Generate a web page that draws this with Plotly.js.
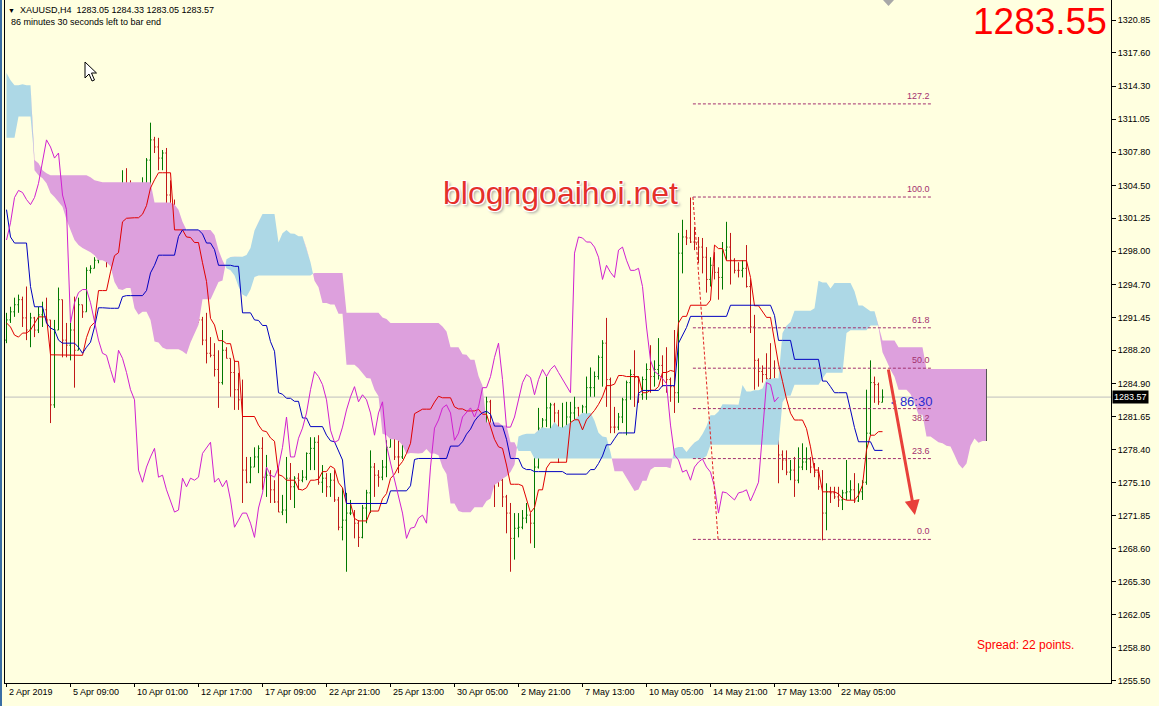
<!DOCTYPE html>
<html>
<head>
<meta charset="utf-8">
<script src="https://cdn.plot.ly/plotly-3.0.1.min.js"></script>
<style>
html,body{margin:0;padding:0;background:#FFFFE0;overflow:hidden;}
#wrap{position:relative;width:1159px;height:706px;}
#chart{position:absolute;left:0;top:0;width:1159px;height:706px;}
#edge{position:absolute;left:0;top:0;width:2px;height:706px;background:#3a6ea5;}
#cursor{position:absolute;left:84px;top:61px;}
#shift{position:absolute;left:883px;top:0px;}
</style>
</head>
<body>
<div id="wrap">
<div id="chart"></div>
<div id="edge"></div>
<svg id="cursor" width="14" height="22"><path d="M1,1 L1,17 L5,13 L8,20 L10.5,19 L7.5,12 L12.5,12 Z" fill="#fff" stroke="#000" stroke-width="1"/></svg>
<svg id="shift" width="12" height="8"><polygon points="0,0 11,0 5.5,6" fill="#a8a8a8"/></svg>
</div>
<script>
// ---------- price bars (XAUUSD H4), bar index 0 .. 219 ----------
const open = [1289.2,1291.2,1292.0,1292.7,1293.2,1291.4,1290.2,1291.4,1290.2,1291.7,1292.2,1291.2,1282.8,1290.2,1293.2,1289.2,1288.7,1290.2,1288.2,1292.7,
1292.0,1296.1,1296.3,1297.1,1301.6,1298.6,1297.6,1299.1,1300.8,1303.3,1304.0,1303.8,1303.1,1302.6,1303.3,1304.7,1307.0,1309.0,1308.3,1307.2,
1307.7,1303.55,1302.1,1290.9,1292.9,1293.9,1294.2,1294.2,1292.9,1291.2,1289.2,1287.9,1287.7,1286.3,1285.0,1288.2,1287.4,1286.0,1284.3,1283.3,
1276.35,1275.15,1276.65,1277.65,1278.5,1275.65,1275.85,1274.4,1273.2,1272.2,1272.4,1275.55,1274.7,1275.55,1275.35,1275.65,1278.0,1278.5,1279.1,1275.15,
1275.55,1274.7,1275.35,1273.4,1270.7,1271.4,1272.1,1272.1,1271.1,1269.7,1272.6,1274.1,1276.65,1275.85,1275.65,1276.65,1278.6,1281.6,1277.65,1277.65,
1279.5,1280.5,1282.0,1284.3,1286.1,1285.6,1284.8,1283.3,1280.3,1279.1,1279.3,1280.6,1282.3,1283.6,1284.6,1283.1,1283.8,1283.3,1282.0,1279.8,
1282.0,1283.1,1278.8,1277.05,1275.35,1273.7,1272.1,1269.6,1270.6,1270.7,1271.6,1271.9,1271.1,1276.65,1280.5,1281.3,1282.5,1282.8,1282.0,1279.3,
1280.0,1281.6,1282.0,1282.5,1281.6,1282.6,1284.5,1284.5,1285.6,1287.5,1288.9,1285.3,1280.6,1280.6,1281.6,1283.3,1285.0,1285.8,1285.5,1283.8,
1285.3,1286.3,1285.6,1286.3,1286.7,1286.0,1285.3,1284.6,1284.0,1297.8,1299.4,1299.3,1298.9,1298.9,1298.4,1297.4,1295.2,1296.6,1295.9,1295.4,
1298.1,1298.4,1297.1,1296.1,1296.1,1296.3,1294.5,1290.5,1287.2,1286.1,1285.8,1285.4,1284.9,1280.8,1277.85,1277.35,1276.15,1276.35,1275.35,1276.65,
1277.15,1277.45,1276.65,1276.15,1274.7,1272.1,1274.2,1274.1,1273.7,1273.4,1274.1,1274.2,1274.4,1273.3,1274.2,1275.15,1280.0,1285.0,1284.8,1283.05];
const high = [1291.9,1292.5,1293.4,1293.7,1293.5,1294.5,1291.9,1291.5,1292.5,1293.0,1293.4,1291.2,1291.2,1294.4,1293.2,1290.9,1290.9,1293.5,1293.4,1292.7,
1296.4,1296.6,1297.4,1303.7,1301.6,1298.6,1299.8,1301.1,1303.55,1306.0,1306.2,1305.0,1304.7,1303.7,1305.3,1307.2,1310.7,1309.3,1309.2,1308.0,
1308.2,1305.0,1303.1,1293.9,1294.2,1294.5,1295.8,1294.9,1295.2,1291.5,1291.9,1289.5,1288.9,1288.2,1290.2,1288.5,1287.4,1287.2,1285.96,1285.3,
1277.65,1277.65,1278.6,1278.8,1279.6,1277.85,1276.35,1275.35,1276.65,1273.9,1277.65,1277.05,1275.75,1276.05,1276.35,1278.1,1279.6,1279.6,1279.8,1276.85,
1276.05,1276.05,1276.35,1273.7,1274.6,1274.1,1273.4,1272.4,1271.4,1272.9,1274.4,1278.3,1277.05,1276.35,1277.35,1279.3,1282.3,1282.0,1279.3,1280.0,
1282.3,1283.3,1288.5,1288.7,1286.9,1286.5,1286.5,1285.0,1282.0,1280.6,1280.8,1283.3,1284.3,1285.3,1286.1,1284.6,1284.3,1283.4,1282.2,1282.6,
1283.6,1283.3,1280.6,1278.0,1275.5,1273.9,1273.1,1272.1,1272.1,1272.4,1273.1,1272.1,1279.0,1282.5,1281.5,1285.6,1283.0,1283.0,1282.3,1283.0,
1283.1,1283.1,1283.6,1282.6,1282.8,1285.6,1286.5,1286.1,1287.7,1289.2,1291.4,1285.5,1282.6,1282.0,1283.5,1285.2,1286.3,1288.2,1285.6,1285.6,
1286.9,1288.7,1287.2,1289.4,1287.7,1288.5,1285.5,1290.2,1299.8,1301.1,1300.1,1303.3,1300.4,1299.4,1299.3,1298.4,1297.4,1297.9,1296.4,1298.9,
1300.9,1299.8,1297.3,1296.9,1297.1,1298.6,1295.2,1291.7,1287.4,1286.7,1287.9,1288.9,1287.2,1283.6,1278.3,1278.3,1277.35,1277.65,1278.6,1279.0,
1278.6,1277.65,1277.05,1276.65,1276.35,1275.05,1274.7,1274.7,1274.7,1274.4,1277.35,1275.35,1276.05,1275.05,1275.35,1284.3,1287.2,1285.6,1285.0,1284.33];
const low = [1288.9,1290.9,1291.5,1291.9,1290.5,1289.2,1288.5,1289.5,1289.9,1290.5,1290.9,1281.0,1282.5,1290.2,1287.5,1287.5,1287.2,1284.5,1288.2,1291.4,
1292.0,1295.8,1296.3,1296.8,1297.4,1296.4,1297.1,1297.8,1297.8,1299.4,1302.4,1301.1,1302.1,1301.4,1302.1,1300.8,1303.4,1307.7,1306.0,1306.0,
1302.6,1301.6,1289.5,1289.9,1291.5,1291.9,1291.2,1290.5,1290.9,1288.7,1286.9,1287.5,1285.6,1282.5,1284.8,1287.4,1283.6,1282.3,1282.3,1273.1,
1275.05,1275.05,1276.65,1276.05,1274.4,1273.7,1273.1,1273.1,1272.2,1271.9,1271.1,1273.4,1272.6,1274.4,1275.15,1275.35,1276.35,1276.35,1274.9,1274.1,
1273.7,1273.7,1273.2,1270.4,1269.4,1266.3,1271.9,1269.6,1268.75,1269.6,1271.1,1272.1,1273.7,1274.7,1275.35,1275.65,1278.6,1277.35,1276.05,1277.45,
1279.3,1278.6,1281.8,1282.0,1285.0,1284.6,1283.1,1279.3,1278.6,1278.3,1278.6,1280.0,1280.0,1281.3,1280.0,1281.3,1280.6,1279.6,1279.3,1277.65,
1280.0,1275.05,1272.7,1274.7,1272.7,1270.1,1266.3,1267.5,1269.7,1270.5,1271.1,1269.1,1268.65,1276.5,1278.3,1280.6,1278.0,1280.3,1277.05,1278.0,
1279.6,1280.0,1280.6,1278.0,1278.3,1281.6,1283.6,1283.6,1285.3,1284.6,1282.6,1280.0,1280.0,1280.3,1281.0,1279.8,1283.3,1282.6,1283.0,1283.3,
1283.3,1284.0,1284.6,1285.3,1284.6,1284.0,1283.1,1282.0,1283.0,1295.8,1298.6,1298.8,1298.1,1296.8,1295.8,1293.9,1294.5,1295.2,1293.2,1294.2,
1297.1,1294.7,1295.8,1295.4,1295.4,1294.4,1289.9,1284.3,1284.6,1285.0,1285.0,1284.7,1280.0,1275.05,1276.35,1275.85,1275.35,1273.7,1275.05,1276.35,
1276.35,1276.05,1275.65,1274.4,1269.4,1270.4,1273.1,1273.5,1272.7,1272.4,1273.4,1273.4,1273.1,1273.2,1273.4,1274.9,1279.8,1283.0,1282.8,1283.05];
const close = [1291.2,1292.0,1292.7,1293.2,1291.4,1290.2,1291.4,1290.2,1291.7,1292.2,1291.2,1282.8,1290.2,1293.2,1289.2,1288.7,1290.2,1288.2,1292.7,1292.0,
1296.1,1296.3,1297.1,1301.6,1298.6,1297.6,1299.1,1300.8,1303.3,1304.0,1303.8,1303.1,1302.6,1303.3,1304.7,1307.0,1309.0,1308.3,1307.2,1307.7,
1303.55,1302.1,1290.9,1292.9,1293.9,1294.2,1294.2,1292.9,1291.2,1289.2,1287.9,1287.7,1286.3,1285.0,1288.2,1287.4,1286.0,1284.3,1283.3,1276.35,
1275.15,1276.65,1277.65,1278.5,1275.65,1275.85,1274.4,1273.2,1272.2,1272.4,1275.55,1274.7,1275.55,1275.35,1275.65,1278.0,1278.5,1279.1,1275.15,1275.55,
1274.7,1275.35,1273.4,1270.7,1271.4,1272.1,1272.1,1271.1,1269.7,1272.6,1274.1,1276.65,1275.85,1275.65,1276.65,1278.6,1281.6,1277.65,1277.65,1279.5,
1280.5,1282.0,1284.3,1286.1,1285.6,1284.8,1283.3,1280.3,1279.1,1279.3,1280.6,1282.3,1283.6,1284.6,1283.1,1283.8,1283.3,1282.0,1279.8,1282.0,
1283.1,1278.8,1277.05,1275.35,1273.7,1272.1,1269.6,1270.6,1270.7,1271.6,1271.9,1271.1,1276.65,1280.5,1281.3,1282.5,1282.8,1282.0,1279.3,1280.0,
1281.6,1282.0,1282.5,1281.6,1282.6,1284.5,1284.5,1285.6,1287.5,1288.9,1285.3,1280.6,1280.6,1281.6,1283.3,1285.0,1285.8,1285.5,1283.8,1285.3,
1286.3,1285.6,1286.3,1286.7,1286.0,1285.3,1284.6,1284.0,1297.8,1299.4,1299.3,1298.9,1298.9,1298.4,1297.4,1295.2,1296.6,1295.9,1295.4,1298.1,
1298.4,1297.1,1296.1,1296.1,1296.3,1294.5,1290.5,1287.2,1286.1,1285.8,1285.4,1284.9,1280.8,1277.85,1277.35,1276.15,1276.35,1275.35,1276.65,1277.15,
1277.45,1276.65,1276.15,1274.7,1272.1,1274.2,1274.1,1273.7,1273.4,1274.1,1274.2,1274.4,1273.3,1274.2,1275.15,1280.0,1285.0,1284.8,1283.1,1283.57];

const tenkanEarly = [1290.9,1290.5,1289.7,1289.5,1289.9,1289.9,1290.2,1290.9];
const kijunEarly = [1302.1,1299.4,1298.8,1298.8,1298.8,1298.8,1294.5,1292.5,1292.5,1292.5,1290.9,1290.4,1290.2,1289.2,1288.9,1288.9,1288.9,1288.9,1288.5,1287.9,1288.5,1289.0,1290.5,1292.4,1292.4];
const spanAEarly = [1315.6,1314.9,1314.4,1314.4,1314.5,1314.4,1314.4,1306.0,1305.5,1305.2,1304.7,1303.75,1303.35,1302.9,1302.4,1301.1,1300.1,1299.1,1298.6,1298.3,1298.1,1297.9,1297.6,1297.1,1297.1,1296.9];
const spanBEarly = [1309.2,1309.2,1309.2,1311.3,1311.3,1311.3,1311.3,1307.0,1306.7,1306.0,1305.7,1305.5,1305.5,1305.5,1305.5,1305.5,1305.5,1305.5,1305.5,1305.5,
1305.5,1305.3,1305.0,1304.9,1304.8,1304.8,1304.8,1304.8,1304.8,1304.8,1304.8,1304.8,1304.8,1304.8,1304.8,1304.8,1304.8,1302.8,1302.8,1302.8,
1302.8,1302.8,1302.6,1302.1,1300.9,1300.1,1300.1,1300.1,1300.1,1300.1,1300.1,1300.1,1299.6,1298.1,1297.1,1296.3,1296.1,1295.6,1294.5,1293.7,
1293.5,1294.2,1295.45,1295.6,1295.6,1295.6,1295.6,1295.6,1295.6,1295.6,1295.6,1295.6,1295.6,1295.6,1295.6,1295.6,1295.6];

// Axis labels
const priceTicks = [1320.85,1317.60,1314.30,1311.05,1307.80,1304.50,1301.25,1298.00,1294.70,1291.45,1288.20,1284.90,1281.65,1278.40,1275.10,1271.85,1268.60,1265.30,1262.05,1258.80,1255.50];
const timeTickBars = [0,16,32,48,64,80,96,112,128,144,160,176,192,208];
const timeTickLabels = ["2 Apr 2019","5 Apr 09:00","10 Apr 01:00","12 Apr 17:00","17 Apr 09:00","22 Apr 21:00","25 Apr 13:00","30 Apr 05:00","2 May 21:00","7 May 13:00","10 May 05:00","14 May 21:00","17 May 13:00","22 May 05:00"];

// Fibonacci retracement
const fibLow = 1269.5, fibHigh = 1303.35;
const fibRatios = [0, 23.6, 38.2, 50.0, 61.8, 100.0, 127.2];
const fibLabels = ["0.0","23.6","38.2","50.0","61.8","100.0","127.2"];
const bidPrice = 1283.57;

// ---------- derived series ----------
const N = close.length;
const idx = close.map((_, i) => i);
function hh(a, f, t){ let m = -Infinity; for (let j = Math.max(0,f); j <= t; j++) m = Math.max(m, a[j]); return m; }
function ll(a, f, t){ let m = Infinity; for (let j = Math.max(0,f); j <= t; j++) m = Math.min(m, a[j]); return m; }
const tenkan = idx.map(i => i < tenkanEarly.length ? tenkanEarly[i] : (hh(high, i-8, i) + ll(low, i-8, i)) / 2);
const kijun = idx.map(i => i < kijunEarly.length ? kijunEarly[i] : (hh(high, i-25, i) + ll(low, i-25, i)) / 2);
const chX = [], chY = [];
for (let j = 26; j < N; j++){ chX.push(j - 26); chY.push(close[j]); }
const cK = [], spanA = [], spanB = [];
for (let k = 0; k < N + 26; k++){
  cK.push(k);
  spanA.push(k < spanAEarly.length ? spanAEarly[k] : (tenkan[k-26] + kijun[k-26]) / 2);
  spanB.push(k < spanBEarly.length ? spanBEarly[k] : (hh(high, k-77, k-26) + ll(low, k-77, k-26)) / 2);
}
// cloud polygons with crossing points
const X = [], UP = [], LB = [], LA = [];
for (let k = 0; k < cK.length; k++){
  if (k > 0){
    const d0 = spanA[k-1] - spanB[k-1], d1 = spanA[k] - spanB[k];
    if (d0 * d1 < 0){
      const t = d0 / (d0 - d1);
      const xc = cK[k-1] + t * (cK[k] - cK[k-1]);
      const yc = spanA[k-1] + t * (spanA[k] - spanA[k-1]);
      X.push(xc); UP.push(yc); LB.push(yc); LA.push(yc);
    }
  }
  X.push(cK[k]); UP.push(Math.max(spanA[k], spanB[k])); LB.push(spanB[k]); LA.push(spanA[k]);
}
const polyX = X.concat(X.slice().reverse());
const blueY = UP.concat(LB.slice().reverse());
const plumY = UP.concat(LA.slice().reverse());

const traces = [
  {type:'scatter', mode:'lines', x: polyX, y: blueY, fill:'toself', fillcolor:'#ADD8E6', line:{width:0, color:'rgba(0,0,0,0)'}, hoverinfo:'skip'},
  {type:'scatter', mode:'lines', x: polyX, y: plumY, fill:'toself', fillcolor:'#DDA0DD', line:{width:0, color:'rgba(0,0,0,0)'}, hoverinfo:'skip'},
  {type:'ohlc', x: idx, open: open, high: high, low: low, close: close, tickwidth: 0.3,
   increasing:{line:{color:'#007800', width:1}}, decreasing:{line:{color:'#C01818', width:1}}, hoverinfo:'skip'},
  {type:'scatter', mode:'lines', x: idx, y: tenkan, line:{color:'#E00000', width:1}, hoverinfo:'skip'},
  {type:'scatter', mode:'lines', x: idx, y: kijun, line:{color:'#0000C0', width:1}, hoverinfo:'skip'},
  {type:'scatter', mode:'lines', x: chX, y: chY, line:{color:'#D020D0', width:1}, hoverinfo:'skip'}
];

// ---------- layout ----------
const L = 5, R = 48, T = 0, B = 23, W = 1159, H = 706;
const pw = W - L - R, ph = H - T - B;
const px = v => (v - L) / pw;          // page pixel -> paper x
const py = v => 1 - (v - T) / ph;      // page pixel -> paper y
const xMin = -0.375, xMax = xMin + pw / 4;
const yTop = 1322.83, yBot = 1255.30;

const fibFrom = 171.6, fibTo = 231.4;
const fibColor = '#A3306F';
const shapes = [
  {type:'line', xref:'paper', x0:0, x1:1, yref:'y', y0:bidPrice, y1:bidPrice, line:{color:'#BEBEBE', width:1}, layer:'below'},
  {type:'line', xref:'x', yref:'y', x0:fibFrom, y0:fibHigh, x1:177.9, y1:fibLow, line:{color:'#E02020', width:1, dash:'3px,2px'}},
  {type:'line', xref:'x', yref:'y', x0:cK[cK.length-1], x1:cK[cK.length-1], y0:spanA[spanA.length-1], y1:spanB[spanB.length-1], line:{color:'#555', width:1}}
];
const annotations = [];
fibRatios.forEach((r, n) => {
  const lvl = fibLow + r / 100 * (fibHigh - fibLow);
  shapes.push({type:'line', xref:'x', yref:'y', x0:fibFrom, x1:fibTo, y0:lvl, y1:lvl, line:{color:fibColor, width:1, dash:'3px,2px'}});
  const below = (r === 38.2);
  annotations.push({xref:'x', yref:'y', x:fibTo, y:lvl, xanchor:'right', yanchor: below ? 'top' : 'bottom', yshift: below ? -2 : 1, showarrow:false,
    text: fibLabels[n], font:{family:'Liberation Sans', size:9, color:fibColor}});
});
timeTickBars.forEach((b, n) => {
  annotations.push({xref:'x', yref:'paper', x:b, y:0, xanchor:'left', yanchor:'top', yshift:-2, xshift:0, showarrow:false,
    text: timeTickLabels[n], font:{family:'Liberation Sans', size:9, color:'#000'}});
});
const txtFont = {family:'Liberation Sans', size:9, color:'#000'};
annotations.push(
  {xref:'paper', yref:'paper', x:px(6), y:py(10), xanchor:'left', yanchor:'middle', showarrow:false,
   text:'<span style="font-size:7px">▼</span>&nbsp;&nbsp;XAUUSD,H4&nbsp;&nbsp;1283.05 1284.33 1283.05 1283.57', font:txtFont},
  {xref:'paper', yref:'paper', x:px(9), y:py(22), xanchor:'left', yanchor:'middle', showarrow:false,
   text:'86 minutes 30 seconds left to bar end', font:txtFont},
  {xref:'paper', yref:'paper', x:px(1109), y:py(22), xanchor:'right', yanchor:'middle', showarrow:false,
   text:'1283.55', font:{family:'Liberation Sans', size:37, color:'#FF0000'}},
  {xref:'paper', yref:'paper', x:px(560), y:py(193), xanchor:'center', yanchor:'middle', showarrow:false,
   text:'blogngoaihoi.net', font:{family:'Liberation Sans', size:32, color:'#E5302A',
   shadow:'-1px -1px 0 #fff, 1px -1px 0 #fff, -1px 1px 0 #fff, 1px 1px 0 #fff, 2px 2px 3px #999'}},
  {xref:'paper', yref:'paper', x:px(975), y:py(645), xanchor:'left', yanchor:'middle', showarrow:false,
   text:'Spread: 22 points.', font:{family:'Liberation Sans', size:12, color:'#FF0000'}},
  {xref:'x', yref:'y', x:220.6, y:1283.15, xanchor:'left', yanchor:'middle', showarrow:false,
   text:'<span style="font-size:9px">&lt;</span> 86:30', font:{family:'Liberation Sans', size:13, color:'#2A2AD0'}},
  {xref:'paper', yref:'y', x:1, y:bidPrice, xanchor:'left', yanchor:'middle', xshift:1, showarrow:false,
   text:'1283.57', bgcolor:'#000', borderpad:1, font:{family:'Liberation Sans', size:9, color:'#fff'}},
  {xref:'x', yref:'y', x:227.1, y:1271.9, axref:'x', ayref:'y', ax:220.4, ay:1286.45, showarrow:true, text:'',
   arrowhead:2, arrowsize:1, arrowwidth:3, arrowcolor:'#E8403A'}
);

const layout = {
  width:W, height:H, margin:{l:L, r:R, t:T, b:B, pad:0},
  paper_bgcolor:'#FFFFE0', plot_bgcolor:'#FFFFE0', showlegend:false,
  xaxis:{range:[xMin, xMax], type:'linear', showgrid:false, zeroline:false, showline:true, linecolor:'#000', linewidth:1,
    ticks:'outside', ticklen:3, tickcolor:'#000', tickvals:timeTickBars, showticklabels:false,
    rangeslider:{visible:false}, fixedrange:true},
  yaxis:{range:[yBot, yTop], side:'right', showgrid:false, zeroline:false, showline:true, mirror:true, linecolor:'#000', linewidth:1,
    ticks:'outside', ticklen:4, tickcolor:'#000', tickvals:priceTicks, ticktext:priceTicks.map(v => v.toFixed(2)),
    tickfont:{family:'Liberation Sans', size:9, color:'#000'}, fixedrange:true},
  shapes: shapes, annotations: annotations
};
Plotly.newPlot('chart', traces, layout, {staticPlot:true, displayModeBar:false});
</script>
</body>
</html>
